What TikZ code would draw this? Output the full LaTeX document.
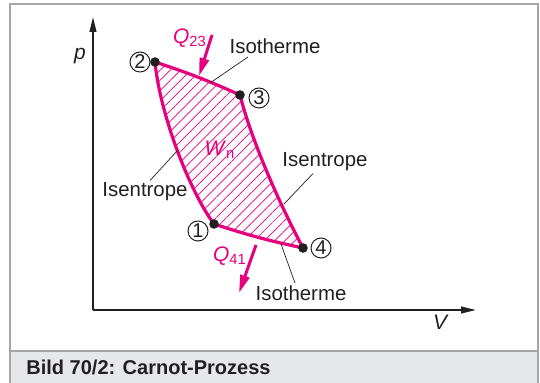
\documentclass[tikz,border=0pt]{standalone}
\usepackage{fontspec}
\setmainfont{Liberation Sans}
\usetikzlibrary{arrows.meta, patterns.meta, positioning}
\definecolor{carnotmag}{RGB}{230, 0, 126}
\definecolor{framegray}{RGB}{165, 165, 165}
\definecolor{captiongray}{RGB}{230, 231, 233}
\definecolor{textdark}{RGB}{35, 31, 32}
\tikzset{
    cycleline/.style={draw=carnotmag, line width=1.6pt, line join=round},
    hatched/.style={pattern={Lines[angle=45, distance=3.6pt, line width=0.35pt]}, pattern color=carnotmag},
    statept/.style={circle, fill=textdark, inner sep=0pt, minimum size=4.8pt},
    statenum/.style={circle, draw=textdark, line width=0.5pt, inner sep=0pt, minimum size=10pt, text=textdark, font=\normalsize},
    curvename/.style={text=textdark, inner sep=1pt, font=\fontsize{10.2}{12}\selectfont},
    leader/.style={draw=textdark, line width=0.35pt},
    heatflow/.style={draw=carnotmag, line width=1.5pt, -{Triangle[length=9pt, width=4.6pt]}},
    heatname/.style={text=carnotmag, inner sep=1pt, font=\fontsize{10.5}{12}\selectfont},
    axisline/.style={draw=textdark, line width=0.8pt, -{Triangle[length=7.5pt, width=3.4pt]}},
    axisname/.style={text=textdark, inner sep=1pt, font=\fontsize{10.5}{12}\selectfont\itshape}
}

\begin{document}
\begin{tikzpicture}[x=0.5pt, y=-0.5pt]
    \useasboundingbox (0,0) rectangle (540,383);
    % frame and caption band
    \fill[captiongray] (10,351) rectangle (538,383);
    \draw[framegray, line width=0.6pt] (10,383) -- (10,4) -- (538,4) -- (538,383);
    \draw[framegray, line width=0.6pt] (10,351) -- (538,351);
    \node (caption) [anchor=base west, text=textdark, font=\normalsize\bfseries, inner sep=0pt] at (26,375) {Bild 70/2: Carnot-Prozess};

    % axes
    \coordinate (O) at (93,310);
    \coordinate (pend) at (93,17);
    \coordinate (vend) at (476,310);
    \draw [axisline] (O) -- (pend);
    \draw [axisline] (O) -- (vend);
    \node (p) [axisname] at (80,56) {p};
    \node (V) [axisname] at (440,322) {V};

    % cycle corners
    \coordinate (s1) at (214,224);
    \coordinate (s2) at (155,62);
    \coordinate (s3) at (240,95);
    \coordinate (s4) at (303,248);

    % hatched area and cycle
    \path [hatched] (s2) to[bend left=3] (s3) .. controls (250,135) and (275,195) .. (s4)
        to[bend left=3] (s1) .. controls (190,192) and (160,115) .. (s2) -- cycle;
    \draw [cycleline] (s2) to[bend left=3] (s3) .. controls (250,135) and (275,195) .. (s4)
        to[bend left=3] (s1) .. controls (190,192) and (160,115) .. (s2) -- cycle;

    % state points
    \foreach \s in {1,2,3,4}
        \node (P\s) [statept] at (s\s) {};
    \node (n1) [statenum] at (198,231) {1};
    \node (n2) [statenum] at (140,62) {2};
    \node (n3) [statenum] at (259,98) {3};
    \node (n4) [statenum] at (321,248) {4};

    % heat flows
    \coordinate (q23a) at (212,35);
    \coordinate (q23b) at (199,76);
    \coordinate (q41a) at (256,245);
    \coordinate (q41b) at (239,293);
    \draw [heatflow] (q23a) -- (q23b);
    \draw [heatflow] (q41a) -- (q41b);
    \node (Q23) [heatname] at (190,38) {\textit{Q}\textsubscript{23}};
    \node (Q41) [heatname] at (230,256) {\textit{Q}\textsubscript{41}};
    \node (W) [heatname] at (220,150) {\textit{W}\textsubscript{n}};

    % curve names with leader lines
    \node (isoT) [curvename] at (275,46) {Isotherme};
    \node (isoB) [curvename] at (301,293) {Isotherme};
    \node (isenL) [curvename] at (145,192) {Isentrope};
    \node (isenR) [curvename] at (325,162) {Isentrope};
    \coordinate (onT) at (210,83);
    \coordinate (onB) at (281,244);
    \coordinate (onL) at (178,150);
    \coordinate (onR) at (284,204);
    \draw [leader] (248,57) -- (onT);
    \draw [leader] (isoB.north) ++(-6,0) -- (onB);
    \draw [leader] (isenL.north) ++(5,0) -- (onL);
    \draw [leader] (isenR.south) ++(-12,0) -- (onR);
\end{tikzpicture}
\end{document}
